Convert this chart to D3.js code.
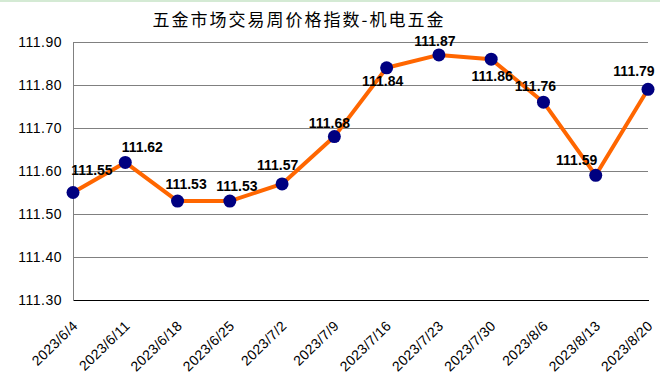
<!DOCTYPE html>
<html><head><meta charset="utf-8">
<script src="https://cdn.jsdelivr.net/npm/d3@7"></script>
<style>body{margin:0;background:#fff}svg{display:block}</style>
</head><body>
<svg id="chart" width="660" height="380"></svg>
<script>
const title = "五金市场交易周价格指数-机电五金";
const categories = ["2023/6/4","2023/6/11","2023/6/18","2023/6/25","2023/7/2","2023/7/9","2023/7/16","2023/7/23","2023/7/30","2023/8/6","2023/8/13","2023/8/20"];
const values = [111.55,111.62,111.53,111.53,111.57,111.68,111.84,111.87,111.86,111.76,111.59,111.79];
const yTicks = [111.30,111.40,111.50,111.60,111.70,111.80,111.90];

// label placement (layout only)
const labelOffsets = [[19,-18],[17,-10],[8.5,-12],[7,-10],[-4.5,-14],[-5,-9],[-4,18],[-4,-9],[1,22],[-8,-11],[-19,-10],[-14,-13]];

const svg = d3.select("#chart");
const m = {left:73, right:648, top:42, bottom:300};

svg.append("rect").attr("x",0).attr("y",0).attr("width",660).attr("height",2).attr("fill","#d4ead4");

const x = d3.scalePoint().domain(categories).range([m.left, m.right]).padding(0);
const y = d3.scaleLinear().domain([111.30, 111.90]).range([m.bottom, m.top]);

// gridlines
svg.append("g").selectAll("line").data(yTicks.filter(d => d > 111.30)).join("line")
  .attr("x1", m.left).attr("x2", m.right)
  .attr("y1", d => y(d)).attr("y2", d => y(d))
  .attr("stroke", "#808080").attr("stroke-width", 1).attr("shape-rendering","crispEdges");

// y axis
const yAxis = d3.axisLeft(y).tickValues(yTicks).tickFormat(d3.format(".2f")).tickSize(0).tickPadding(11);
const gy = svg.append("g").attr("transform", `translate(${m.left},0)`).call(yAxis);
gy.select(".domain").attr("stroke","#808080").attr("shape-rendering","crispEdges");
gy.selectAll("text").attr("font-family","Arial, 'Liberation Sans', sans-serif").attr("font-size","14px").attr("fill","#000").attr("letter-spacing","0.5px");

// x axis
const xAxis = d3.axisBottom(x).tickSize(0).tickPadding(0);
const gx = svg.append("g").attr("transform", `translate(0,${m.bottom})`).call(xAxis);
gx.select(".domain").attr("stroke","#000").attr("shape-rendering","crispEdges");
gx.selectAll("text")
  .attr("font-family","Arial, 'Liberation Sans', sans-serif").attr("font-size","14px").attr("fill","#000")
  .attr("letter-spacing","0.3px")
  .attr("text-anchor","end").attr("dy",0).attr("y",0)
  .attr("transform","translate(5,27) rotate(-44)");

// line
svg.append("path").datum(values)
  .attr("d", d3.line().x((d,i) => x(categories[i])).y(d => y(d)))
  .attr("fill","none").attr("stroke","#FF6600").attr("stroke-width",4).attr("stroke-linejoin","round");

// markers
svg.append("g").selectAll("circle").data(values).join("circle")
  .attr("cx", (d,i) => x(categories[i])).attr("cy", d => y(d)).attr("r", 6.5).attr("fill","#000080");

// labels
svg.append("g").selectAll("text").data(values).join("text")
  .attr("x", (d,i) => x(categories[i]) + labelOffsets[i][0])
  .attr("y", (d,i) => y(d) + labelOffsets[i][1])
  .attr("text-anchor","middle")
  .attr("font-family","Arial, 'Liberation Sans', sans-serif").attr("font-size","14px").attr("font-weight","bold").attr("fill","#000")
  .text(d => d.toFixed(2));

// title
svg.append("text").attr("x", 299).attr("y", 26).attr("text-anchor","middle")
  .attr("font-family","'Noto Sans CJK SC', sans-serif").attr("font-size","17px").attr("letter-spacing","2px").attr("fill","#000")
  .text(title);
</script>
</body></html>
